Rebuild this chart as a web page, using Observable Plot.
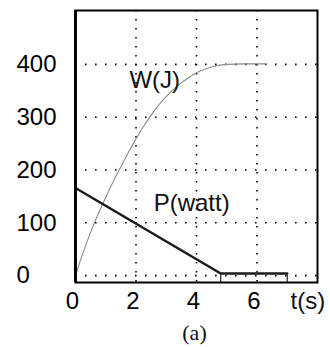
<!DOCTYPE html>
<html>
<head>
<meta charset="utf-8">
<script src="https://cdn.jsdelivr.net/npm/d3@7"></script>
<script src="https://cdn.jsdelivr.net/npm/@observablehq/plot@0.6"></script>
<style>
  html, body { margin: 0; padding: 0; background: #fff; }
  #chart { width: 330px; height: 347px; }
</style>
</head>
<body>
<div id="chart"></div>
<script>
// Energy W(J) curve
const wT = [0, 0.1, 0.25, 0.5, 0.83, 1.16, 1.55, 1.88, 2.2, 2.5, 2.81, 3.1, 3.47, 3.8, 4.03, 4.5, 5.0, 5.6, 6.3];
const wV = [0, 18, 43, 82, 127, 168, 212, 247, 278, 304, 327, 345, 364, 377, 385, 395, 400, 401, 401];
// Power P(watt)
const pT = [0, 4.8, 7.0];
const pV = [166, 4, 4];
const pDrops = [4.8, 7.0];
// Axis ticks
const xTicks = [0, 2, 4, 6];
const yTicks = [0, 100, 200, 300, 400];
// Labels
const labels = [
  {t: 2.62, v: 370, text: "W(J)"},
  {t: 3.84, v: 137, text: "P(watt)"}
];
const xAxisName = {t: 7.68, text: "t(s)"};
const caption = "(a)";

const W = wT.map((t, i) => ({t, v: wV[i]}));
const P = pT.map((t, i) => ({t, v: pV[i]}));
const yMin = -13, yMax = 502;

const chart = Plot.plot({
  width: 330,
  height: 347,
  marginLeft: 75,
  marginRight: 13,
  marginTop: 10,
  marginBottom: 65,
  style: {fontFamily: "'Liberation Sans', Arial, sans-serif", background: "#fff"},
  x: {domain: [0, 8]},
  y: {domain: [yMin, yMax]},
  marks: [
    Plot.ruleX(xTicks.slice(1), {stroke: "#000", strokeWidth: 1.6, strokeDasharray: "1.6,7.4"}),
    Plot.ruleY(yTicks, {stroke: "#000", strokeWidth: 1.6, strokeDasharray: "1.6,8.4"}),
    Plot.line(W, {x: "t", y: "v", stroke: "#8a8a8a", strokeWidth: 1.1, curve: "monotone-x"}),
    Plot.line(P, {x: "t", y: "v", stroke: "#1a1a1a", strokeWidth: 2.5}),
    Plot.ruleX(pDrops, {y1: yMin, y2: 4, stroke: "#222", strokeWidth: 1.2}),
    Plot.text(labels, {x: "t", y: "v", text: "text", fontSize: 24, fill: "#111", lineAnchor: "middle"}),
    Plot.frame({stroke: "#000", strokeWidth: 2}),
    Plot.ruleX([0], {stroke: "#000", strokeWidth: 3}),
    Plot.axisX({ticks: xTicks, tickSize: 0, tickPadding: 9, dx: -3, fontSize: 24, label: null, tickFormat: d => String(d)}),
    Plot.axisY({ticks: yTicks, tickSize: 0, tickPadding: 20, textAnchor: "start", dx: -39, fontSize: 24, label: null, tickFormat: d => String(d)}),
    Plot.text([xAxisName], {x: "t", text: "text", frameAnchor: "bottom", dy: 9, lineAnchor: "top", fontSize: 24, fill: "#111"}),
    Plot.text([caption], {text: d => d, frameAnchor: "bottom", dx: -2, dy: 42, lineAnchor: "top", fontSize: 22, fontFamily: "'Liberation Serif', 'Times New Roman', serif", fill: "#111"})
  ]
});
document.getElementById("chart").appendChild(chart);
</script>
</body>
</html>
